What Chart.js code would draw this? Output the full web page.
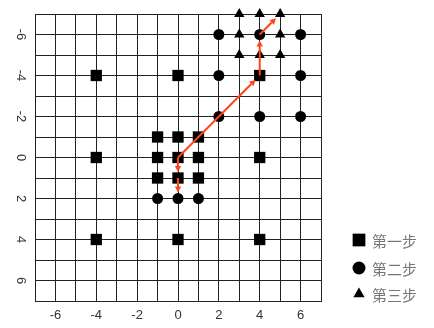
<!DOCTYPE html>
<html>
<head>
<meta charset="utf-8">
<script src="https://cdn.jsdelivr.net/npm/chart.js@4/dist/chart.umd.min.js"></script>
<style>
  html, body { margin: 0; padding: 0; background: #fff; }
  #wrap { width: 434px; height: 328px; }
</style>
</head>
<body>
<div id="wrap"><canvas id="c" width="434" height="328"></canvas></div>
<script>
// ---- data ----
const seriesNames = ['第一步', '第二步', '第三步'];
const pointStyles = ['rect', 'circle', 'triangle'];

const step1X = [-4, 0, 4, -4, 4, -4, 0, 4, -1, 0, 1, -1, 0, 1, -1, 0, 1];
const step1Y = [-4, -4, -4, 0, 0, 4, 4, 4, -1, -1, -1, 0, 0, 0, 1, 1, 1];

const step2X = [2, 4, 6, 2, 6, 2, 4, 6, -1, 0, 1];
const step2Y = [-6, -6, -6, -4, -4, -2, -2, -2, 2, 2, 2];

const step3X = [3, 4, 5, 3, 5, 3, 4, 5];
const step3Y = [-7, -7, -7, -6, -6, -5, -5, -5];

// arrows: from -> to
const arrowFromX = [0, 4, 4, 0, 0];
const arrowFromY = [0, -4, -6, 0, 1];
const arrowToX = [4, 4, 5, 0, 0];
const arrowToY = [-4, -6, -7, 1, 2];

const xTickLabels = ['-6', '-4', '-2', '0', '2', '4', '6'];
const yTickLabels = ['-6', '-4', '-2', '0', '2', '4', '6'];

const arrowColor = '#ff4419';

function toPoints(xs, ys) {
    return xs.map((x, i) => ({ x: x, y: ys[i] }));
}

// ======================================
// plugins
// ======================================
const arrowPlugin = {
    id: 'arrows',
    afterDatasetsDraw(chart) {
        const ctx = chart.ctx;
        const sx = chart.scales.x, sy = chart.scales.y;
        ctx.save();
        ctx.strokeStyle = arrowColor;
        ctx.fillStyle = arrowColor;
        ctx.lineWidth = 2;
        for (let i = 0; i < arrowFromX.length; i++) {
            const x1 = sx.getPixelForValue(arrowFromX[i]);
            const y1 = sy.getPixelForValue(arrowFromY[i]);
            const x2 = sx.getPixelForValue(arrowToX[i]);
            const y2 = sy.getPixelForValue(arrowToY[i]);
            const a = Math.atan2(y2 - y1, x2 - x1);
            const tipX = x2 - Math.cos(a) * 6;
            const tipY = y2 - Math.sin(a) * 6;
            const headLen = 6, headW = 3.2;
            const bx = tipX - Math.cos(a) * headLen;
            const by = tipY - Math.sin(a) * headLen;
            ctx.beginPath();
            ctx.moveTo(x1, y1);
            ctx.lineTo(bx, by);
            ctx.stroke();
            ctx.beginPath();
            ctx.moveTo(tipX, tipY);
            ctx.lineTo(bx - Math.sin(a) * headW, by + Math.cos(a) * headW);
            ctx.lineTo(bx + Math.sin(a) * headW, by - Math.cos(a) * headW);
            ctx.closePath();
            ctx.fill();
        }
        ctx.restore();
    }
};

// rotated y tick labels
const yLabelPlugin = {
    id: 'yLabels',
    afterDraw(chart) {
        const ctx = chart.ctx;
        const sy = chart.scales.y;
        ctx.save();
        ctx.fillStyle = '#333';
        ctx.font = '13px "Liberation Sans", Arial, sans-serif';
        ctx.textAlign = 'center';
        ctx.textBaseline = 'middle';
        yTickLabels.forEach(lbl => {
            const y = sy.getPixelForValue(parseFloat(lbl));
            ctx.save();
            ctx.translate(21, y);
            ctx.rotate(Math.PI / 2);
            ctx.fillText(lbl, 0, 0);
            ctx.restore();
        });
        ctx.restore();
    }
};

// legend at lower right
const legendPlugin = {
    id: 'sideLegend',
    afterDraw(chart) {
        const ctx = chart.ctx;
        const legX = 359, legY = [240, 268, 294];
        ctx.save();
        seriesNames.forEach((name, i) => {
            ctx.fillStyle = '#000';
            ctx.strokeStyle = '#000';
            Chart.helpers.drawPoint(ctx, {
                pointStyle: pointStyles[i],
                radius: i === 0 ? 9 : 6.5,
                rotation: 0,
                borderWidth: 0
            }, legX, legY[i]);
            ctx.fillStyle = '#777';
            ctx.font = '15px "Noto Sans CJK SC", sans-serif';
            ctx.textAlign = 'left';
            ctx.textBaseline = 'middle';
            ctx.fillText(name, 372, legY[i] + 1);
        });
        ctx.restore();
    }
};

// ======================================
// chart
// ======================================
const ctx = document.getElementById('c').getContext('2d');
const chart = new Chart(ctx, {
    type: 'scatter',
    data: {
        datasets: [
            { label: seriesNames[0], data: toPoints(step1X, step1Y), pointStyle: pointStyles[0],
              pointRadius: 8, backgroundColor: '#000', borderColor: '#000', borderWidth: 0, clip: false },
            { label: seriesNames[1], data: toPoints(step2X, step2Y), pointStyle: pointStyles[1],
              pointRadius: 5.5, backgroundColor: '#000', borderColor: '#000', borderWidth: 0, clip: false },
            { label: seriesNames[2], data: toPoints(step3X, step3Y), pointStyle: pointStyles[2],
              pointRadius: 6, backgroundColor: '#000', borderColor: '#000', borderWidth: 0, clip: false }
        ]
    },
    options: {
        responsive: false,
        animation: false,
        events: [],
        layout: { padding: { top: 14, right: 113, left: 0, bottom: 0 } },
        plugins: { legend: { display: false }, tooltip: { enabled: false } },
        scales: {
            x: {
                type: 'linear', min: -7, max: 7,
                grid: { color: '#222', lineWidth: 1, drawTicks: false },
                border: { color: '#222' },
                ticks: {
                    stepSize: 1, padding: 7, color: '#333',
                    font: { family: '"Liberation Sans", Arial, sans-serif', size: 13 },
                    callback: v => xTickLabels.includes(String(v)) ? String(v) : ''
                },
                afterFit: s => { s.height = 27; }
            },
            y: {
                type: 'linear', min: -7, max: 7, reverse: true,
                grid: { color: '#222', lineWidth: 1, drawTicks: false },
                border: { color: '#222' },
                ticks: { stepSize: 1, display: false },
                afterFit: s => { s.width = 35; }
            }
        }
    },
    plugins: [arrowPlugin, yLabelPlugin, legendPlugin]
});
</script>
</body>
</html>
